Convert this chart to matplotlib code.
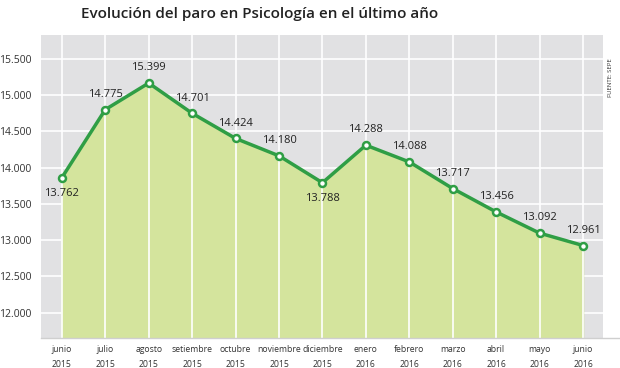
import matplotlib.pyplot as plt
from matplotlib.lines import Line2D
from matplotlib.ticker import FuncFormatter

months = ['junio\n2015', 'julio\n2015', 'agosto\n2015', 'setiembre\n2015', 'octubre\n2015',
          'noviembre\n2015', 'diciembre\n2015', 'enero\n2016', 'febrero\n2016', 'marzo\n2016',
          'abril\n2016', 'mayo\n2016', 'junio\n2016']
# labelled values
paro = [13762, 14775, 15399, 14701, 14424, 14180, 13788, 14288, 14088, 13717, 13456, 13092, 12961]
# where the points sit against the y axis in the original graphic
paro_drawn = [13861, 14801, 15167, 14750, 14403, 14163, 13792, 14310, 14079, 13712, 13389, 13097, 12926]
label_below = [True, False, False, False, False, False, True, False, False, False, False, False, False]
yticks = [12000, 12500, 13000, 13500, 14000, 14500, 15000, 15500]

def miles(v):
    return '{:,}'.format(int(v)).replace(',', '.')

plt.rcParams['font.family'] = ['Open Sans', 'DejaVu Sans']

fig = plt.figure(figsize=(6.2, 3.68), dpi=100)
ax = fig.add_axes([41 / 620, 1 - 338 / 368, 562 / 620, 303 / 368])
ax.set_facecolor('#e1e1e3')

x = list(range(len(paro)))
ax.fill_between(x, paro_drawn, 11000, color='#d4e49d', zorder=2)
ax.plot(x, paro_drawn, color='#2f9e45', lw=2.5, zorder=4,
        marker='o', ms=5, mfc='white', mec='#2f9e45', mew=1.8)

for i, v in enumerate(paro):
    dy = -11 if label_below[i] else 11
    ax.annotate(miles(v), (i, paro_drawn[i]), xytext=(0, dy), textcoords='offset points',
                ha='center', va='center', fontsize=8, color='#222222', zorder=5)

ax.set_xlim(-0.48, 12.46)
ax.set_ylim(11650, 15830)
ax.set_yticks(yticks)
ax.yaxis.set_major_formatter(FuncFormatter(lambda v, p: miles(v)))
ax.set_xticks(x)
ax.set_xticklabels(months, fontsize=6.2, color='#333333', linespacing=1.9)
ax.tick_params(axis='y', labelsize=7.5, colors='#333333', length=0, pad=7)
ax.tick_params(axis='x', length=0, pad=5)
ax.grid(True, color='white', lw=1.2)
# horizontal lines under the fill, vertical lines over it
ax.set_axisbelow(True)
ax.yaxis.set_zorder(1.5)
ax.xaxis.set_zorder(3)
for s in ['top', 'right', 'left', 'bottom']:
    ax.spines[s].set_visible(False)
fig.add_artist(Line2D([41 / 620, 1], [1 - 338 / 368, 1 - 338 / 368], color='#cfcfcf', lw=1))

fig.text(0.418, 0.962, 'Evolución del paro en Psicología en el último año',
         ha='center', va='center', fontsize=11, color='#222222', fontweight='semibold')
fig.text(0.984, 0.79, 'FUENTE: SEPE', rotation=90, ha='center', va='center',
         fontsize=4.3, color='#333333')

fig.savefig('out.png', dpi=100)
